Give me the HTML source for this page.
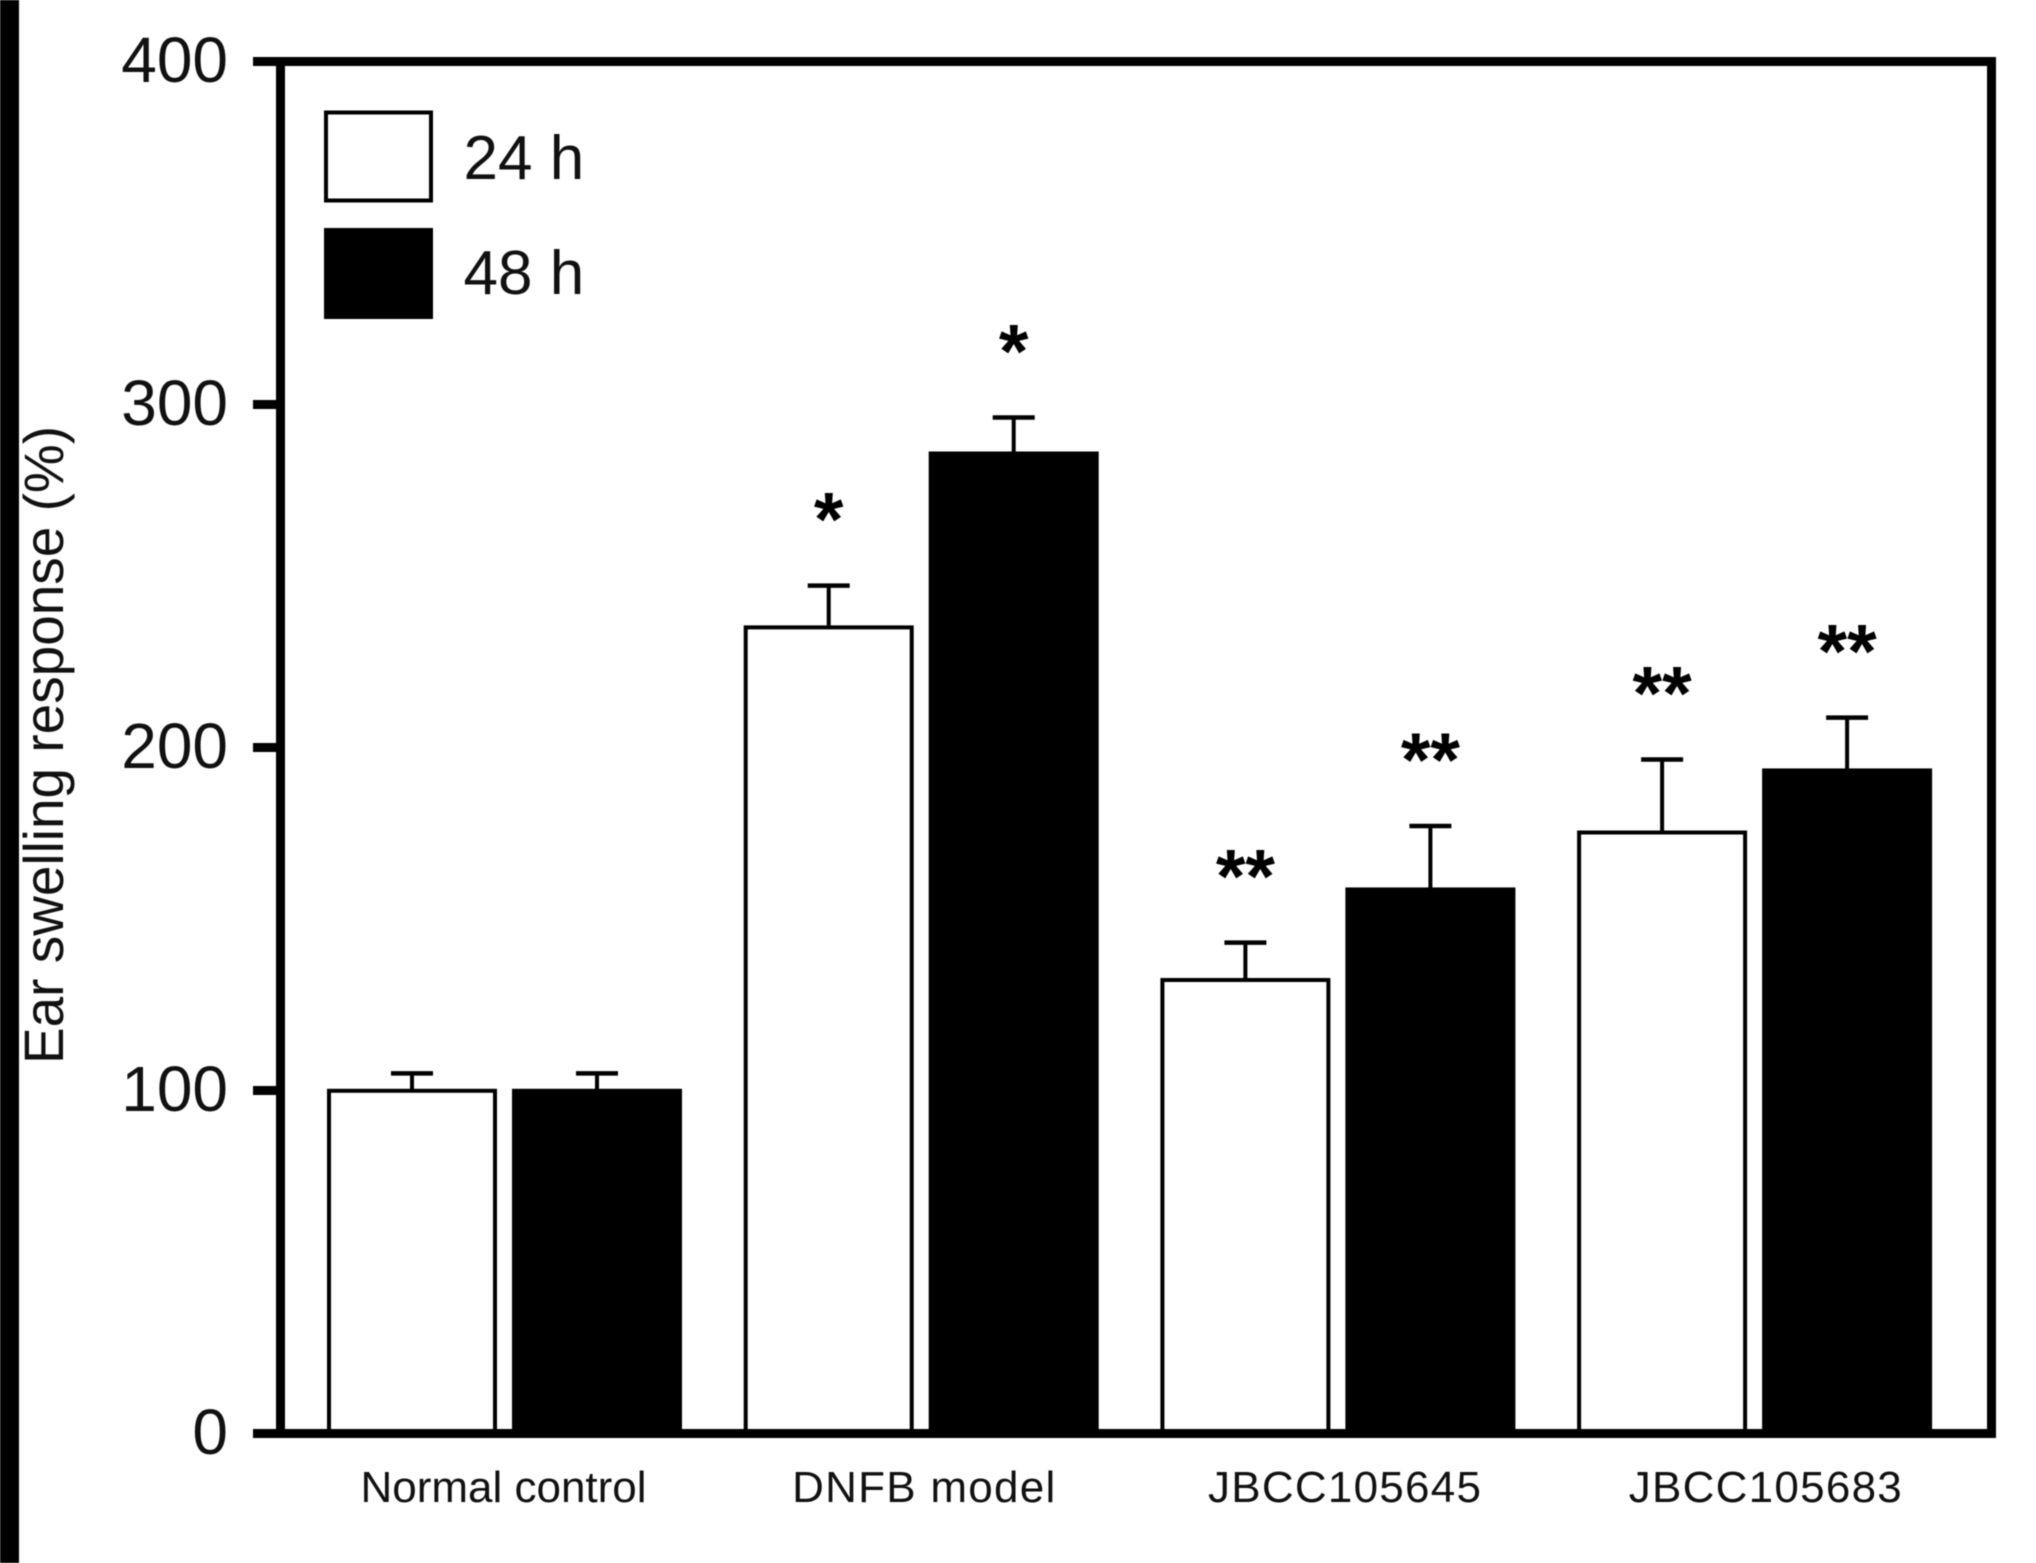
<!DOCTYPE html>
<html lang="en">
<head>
<meta charset="utf-8">
<title>Ear swelling response</title>
<style>
  html, body { margin: 0; padding: 0; background: #fff; }
  body { width: 2036px; height: 1563px; overflow: hidden; }
  svg { display: block; filter: blur(0.6px); }
  text { font-family: "Liberation Sans", Arial, sans-serif; fill: #111; }
</style>
</head>
<body>
<svg id="chart" xmlns="http://www.w3.org/2000/svg" width="2036" height="1563" viewBox="0 0 2036 1563">
  <rect x="0" y="0" width="2036" height="1563" fill="#fff"/>
  <rect x="0" y="0" width="19" height="1563" fill="#000"/>
  <text transform="translate(63 1064) rotate(-90)" font-size="56" textLength="638" lengthAdjust="spacingAndGlyphs">Ear swelling response (%)</text>
  <g id="bars"></g>
  <g id="axes"></g>
  <g>
    <rect x="326" y="112.5" width="105" height="88" fill="#fff" stroke="#000" stroke-width="4"/>
    <text x="463.5" y="179" font-size="62">24 h</text>
    <rect x="324" y="228" width="109" height="91" fill="#000"/>
    <text x="463.5" y="294" font-size="62">48 h</text>
  </g>
</svg>
<script>
const categories = ["Normal control", "DNFB model", "JBCC105645", "JBCC105683"];
const values24h = [100.5, 235.6, 132.8, 175.8];
const values48h = [100.5, 286.3, 159.2, 193.9];
const errors24h = [4.5, 11.6, 10.3, 20.7];
const errors48h = [4.5, 9.9, 17.9, 14.8];
const marks24h = ["", "*", "**", "**"];
const marks48h = ["", "*", "**", "**"];
const yTicks = [0, 100, 200, 300, 400];

const NS = "http://www.w3.org/2000/svg";
const barsLayer = document.getElementById("bars");
const axesLayer = document.getElementById("axes");

function yScale(v) { return 1433.5 - 3.43 * v; }
function groupCenter(i) { return 504.5 + 416.7 * i; }
function labelCenter(i) { return 503.5 + 420.8 * i; }

function make(tag, attrs, parent) {
  const el = document.createElementNS(NS, tag);
  for (const k in attrs) el.setAttribute(k, attrs[k]);
  parent.appendChild(el);
  return el;
}

function drawSeries(values, errors, marks, side, filled, key) {
  values.forEach(function (v, i) {
    const cx = groupCenter(i) + side * 92.5;
    const top = yScale(v);
    const base = yScale(0);
    const errTop = yScale(v + errors[i]);

    const stem = make("line", { x1: cx, x2: cx, y1: errTop, y2: top + 2, stroke: "#000", "stroke-width": 4 }, barsLayer);
    
    

    const cap = make("line", { x1: cx - 21, x2: cx + 21, y1: errTop, y2: errTop, stroke: "#000", "stroke-width": 4.5 }, barsLayer);
    
    

    const bar = filled
      ? make("rect", { x: cx - 85, y: top, width: 170, height: base - top, fill: "#000" }, barsLayer)
      : make("rect", { x: cx - 83, y: top + 2, width: 166, height: base - top - 2, fill: "#fff", stroke: "#000", "stroke-width": 4 }, barsLayer);
    
    

    if (marks[i]) {
      const star = make("text", { x: cx, y: errTop - 40, "font-size": 76, "font-weight": "bold", "text-anchor": "middle", style: "fill:#000" }, barsLayer);
      star.textContent = marks[i];
      
      
    }
  });
}

drawSeries(values24h, errors24h, marks24h, -1, false, "24h");
drawSeries(values48h, errors48h, marks48h, 1, true, "48h");

const frame = make("rect", { x: 280.5, y: 61.5, width: 1711, height: 1372, fill: "none", stroke: "#000", "stroke-width": 9 }, axesLayer);



yTicks.forEach(function (t) {
  const y = yScale(t);
  const tick = make("line", { x1: 253, x2: 281, y1: y, y2: y, stroke: "#000", "stroke-width": 9 }, axesLayer);
  
  

  const label = make("text", { x: 228, y: y + 20.5, "font-size": 64, "text-anchor": "end" }, axesLayer);
  label.textContent = String(t);
  
  
});

categories.forEach(function (c, i) {
  const label = make("text", { x: labelCenter(i), y: 1502, "font-size": 44, "text-anchor": "middle", "letter-spacing": i === 0 ? 0 : 1.25 }, axesLayer);
  label.textContent = c;
  
  
});
</script>
</body>
</html>
